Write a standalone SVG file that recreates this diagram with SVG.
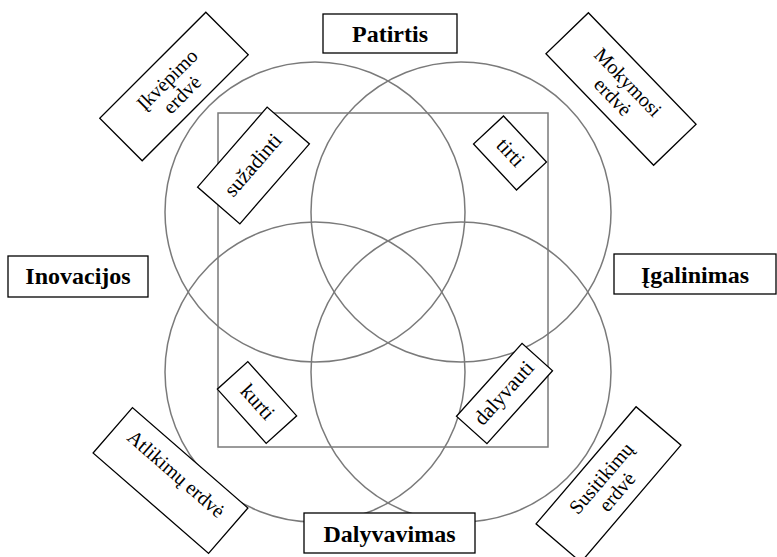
<svg xmlns="http://www.w3.org/2000/svg" width="777" height="557" viewBox="0 0 777 557">
<style>
.c{fill:none;stroke:#7a7a7a;stroke-width:1.5}
.b{fill:#fff;stroke:#000;stroke-width:1.3}
.bt{font-family:"Liberation Serif","Times New Roman",serif;font-weight:bold;font-size:24px;text-anchor:middle;fill:#000}
.t{font-family:"Liberation Serif","Times New Roman",serif;font-size:20px;text-anchor:middle;fill:#000}
.s{font-family:"Liberation Serif","Times New Roman",serif;font-size:21px;text-anchor:middle;fill:#000}
</style>
<rect width="777" height="557" fill="#fff"/>
<g id="connectors">
<circle class="c" cx="315" cy="212" r="150"/>
<circle class="c" cx="461" cy="212" r="150"/>
<circle class="c" cx="315" cy="372" r="150"/>
<circle class="c" cx="461" cy="372" r="150"/>
<rect class="c" x="218" y="113" width="330" height="334"/>
</g>
<g id="patirtis"><rect class="b" x="323" y="14" width="134" height="39"/><text class="bt" x="390" y="42">Patirtis</text></g>
<g id="dalyvavimas"><rect class="b" x="304" y="513" width="171" height="40"/><text class="bt" x="389.5" y="542">Dalyvavimas</text></g>
<g id="inovacijos"><rect class="b" x="8" y="256" width="140" height="41"/><text class="bt" x="78" y="284">Inovacijos</text></g>
<g id="igalinimas"><rect class="b" x="614" y="254" width="162" height="40"/><text class="bt" x="695" y="283">Įgalinimas</text></g>
<g id="ikvepimo" transform="translate(174,86.5) rotate(-45)"><rect class="b" x="-75" y="-30" width="150" height="60"/><text class="t" x="0" y="-3">Įkvėpimo</text><text class="t" x="0" y="18">erdvė</text></g>
<g id="mokymosi" transform="translate(621,89) rotate(46)"><rect class="b" x="-77.5" y="-29.5" width="155" height="59"/><text class="t" x="0" y="-3">Mokymosi</text><text class="t" x="0" y="18">erdvė</text></g>
<g id="atlikimu" transform="translate(170.5,480.5) rotate(41)"><rect class="b" x="-76.5" y="-30" width="153" height="60"/><text class="t" x="0" y="-2">Atlikimų erdvė</text></g>
<g id="susitikimu" transform="translate(608.5,484.5) rotate(-49.5)"><rect class="b" x="-77" y="-29.5" width="154" height="59"/><text class="t" x="0" y="-3">Susitikimų</text><text class="t" x="0" y="18">erdvė</text></g>
<g id="suzadinti" transform="translate(253.5,165.5) rotate(-49)"><rect class="b" x="-53" y="-28" width="106" height="56"/><text class="s" x="0" y="6">sužadinti</text></g>
<g id="tirti" transform="translate(510,153) rotate(47)"><rect class="b" x="-31.5" y="-20.5" width="63" height="41"/><text class="s" x="0" y="6">tirti</text></g>
<g id="kurti" transform="translate(257,402.5) rotate(48)"><rect class="b" x="-36.5" y="-20.5" width="73" height="41"/><text class="s" x="0" y="6">kurti</text></g>
<g id="dalyvauti" transform="translate(504.5,393.5) rotate(-48)"><rect class="b" x="-49" y="-20.5" width="98" height="41"/><text class="s" x="0" y="6">dalyvauti</text></g>
</svg>
